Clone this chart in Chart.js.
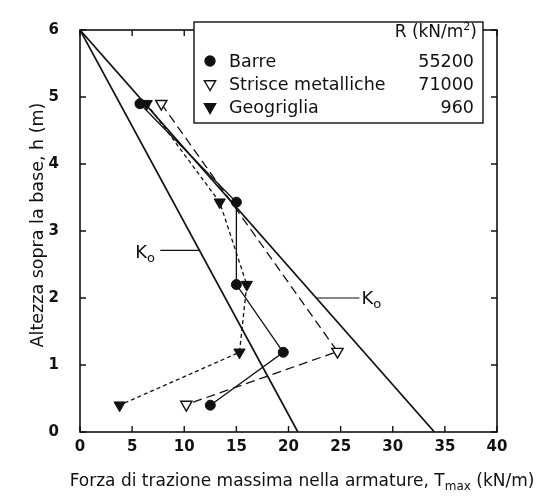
<!DOCTYPE html>
<html>
<head>
<meta charset="utf-8">
<script src="https://cdn.jsdelivr.net/npm/chart.js@4.4.0/dist/chart.umd.min.js"></script>
<style>
  html, body { margin: 0; padding: 0; background: #fff; }
  #wrap { width: 555px; height: 500px; }
</style>
</head>
<body>
<div id="wrap"><canvas id="c" width="555" height="500"></canvas></div>
<script>
// Axis ticks
const xTicks = [0, 5, 10, 15, 20, 25, 30, 35, 40];
const yTicks = [0, 1, 2, 3, 4, 5, 6];

// Measured peak tension (T, kN/m) at each reinforcement level (h, m)
const barreH = [4.9, 3.43, 2.2, 1.19, 0.4];
const barreT = [5.75, 15.0, 15.0, 19.5, 12.5];
const strisceH = [4.9, 1.2, 0.41];
const strisceT = [7.8, 24.7, 10.2];
const geoH = [4.9, 3.43, 2.2, 1.19, 0.4];
const geoT = [6.4, 13.4, 16.0, 15.3, 3.8];

// K0 (at-rest) reference lines
const koH = [6, 0];
const koNarrowT = [0, 20.9];
const koWideT = [0, 34.0];

// Legend table
const legendNames = ['Barre', 'Strisce metalliche', 'Geogriglia'];
const legendR = ['55200', '71000', '960'];
const legendTitle = 'R (kN/m';

const INK = '#111';
const FONT = '"DejaVu Sans", sans-serif';

const pts = (xs, ys) => xs.map((x, i) => ({ x: x, y: ys[i] }));

const baseLine = { showLine: true, tension: 0, borderColor: INK, fill: false };

const datasets = [
  Object.assign({}, baseLine, {
    label: 'K0 a', data: pts(koNarrowT, koH), borderWidth: 1.7, pointRadius: 0
  }),
  Object.assign({}, baseLine, {
    label: 'K0 b', data: pts(koWideT, koH), borderWidth: 1.7, pointRadius: 0
  }),
  Object.assign({}, baseLine, {
    label: legendNames[0], data: pts(barreT, barreH), borderWidth: 1.3,
    pointStyle: 'circle', pointRadius: 5, pointBackgroundColor: INK,
    pointBorderColor: INK, pointBorderWidth: 1
  }),
  Object.assign({}, baseLine, {
    label: legendNames[1], data: pts(strisceT, strisceH), borderWidth: 1.3,
    borderDash: [9, 5],
    pointStyle: 'triangle', pointRotation: 180, pointRadius: 6.5,
    pointBackgroundColor: '#fff', pointBorderColor: INK, pointBorderWidth: 1.4
  }),
  Object.assign({}, baseLine, {
    label: legendNames[2], data: pts(geoT, geoH), borderWidth: 1.3,
    borderDash: [4, 3],
    pointStyle: 'triangle', pointRotation: 180, pointRadius: 6.5,
    pointBackgroundColor: INK, pointBorderColor: INK, pointBorderWidth: 1
  })
];

// Draws text made of runs, where a run may be lowered as a subscript or raised as a superscript
function drawRuns(ctx, runs, x, y, align) {
  let total = 0;
  runs.forEach(r => { ctx.font = r.font; total += ctx.measureText(r.text).width; });
  let cx = align === 'right' ? x - total : align === 'center' ? x - total / 2 : x;
  ctx.textAlign = 'left';
  ctx.textBaseline = 'alphabetic';
  runs.forEach(r => {
    ctx.font = r.font;
    ctx.fillText(r.text, cx, y + (r.dy || 0));
    cx += ctx.measureText(r.text).width;
  });
}

const decor = {
  id: 'decor',
  afterDraw(chart) {
    const ctx = chart.ctx;
    const a = chart.chartArea;
    const xs = chart.scales.x, ys = chart.scales.y;
    ctx.save();
    ctx.strokeStyle = INK;
    ctx.fillStyle = INK;

    // plot frame
    ctx.lineWidth = 1.6;
    ctx.strokeRect(a.left, a.top, a.right - a.left, a.bottom - a.top);

    // inward tick marks on all four sides
    ctx.lineWidth = 1.4;
    const tl = 6;
    ctx.beginPath();
    xTicks.forEach(v => {
      const px = xs.getPixelForValue(v);
      ctx.moveTo(px, a.bottom); ctx.lineTo(px, a.bottom - tl);
      ctx.moveTo(px, a.top); ctx.lineTo(px, a.top + tl);
    });
    yTicks.forEach(v => {
      const py = ys.getPixelForValue(v);
      ctx.moveTo(a.left, py); ctx.lineTo(a.left + tl, py);
      ctx.moveTo(a.right, py); ctx.lineTo(a.right - tl, py);
    });
    ctx.stroke();

    // K0 labels with leader lines
    const kRuns = [
      { text: 'K', font: '18px ' + FONT },
      { text: 'o', font: '13px ' + FONT, dy: 4 }
    ];
    ctx.lineWidth = 1.2;
    ctx.beginPath();
    const ly = ys.getPixelForValue(2.71);
    ctx.moveTo(xs.getPixelForValue(7.7), ly);
    ctx.lineTo(xs.getPixelForValue(koNarrowT[1] * (1 - 2.71 / 6)), ly);
    const ry = ys.getPixelForValue(2.0);
    ctx.moveTo(xs.getPixelForValue(koWideT[1] * (1 - 2.0 / 6)), ry);
    ctx.lineTo(xs.getPixelForValue(26.8), ry);
    ctx.stroke();
    drawRuns(ctx, kRuns, xs.getPixelForValue(5.3), ys.getPixelForValue(2.6), 'left');
    drawRuns(ctx, kRuns, xs.getPixelForValue(27.0), ys.getPixelForValue(1.91), 'left');

    // legend box
    const L = 194, T = 22, R = 483, B = 123;
    ctx.fillStyle = '#fff';
    ctx.fillRect(L, T, R - L, B - T);
    ctx.fillStyle = INK;
    ctx.lineWidth = 1.4;
    ctx.strokeRect(L, T, R - L, B - T);
    drawRuns(ctx, [
      { text: legendTitle, font: '17px ' + FONT },
      { text: '2', font: '11px ' + FONT, dy: -7 },
      { text: ')', font: '17px ' + FONT }
    ], 477, 37, 'right');
    const rowY = [67, 90, 113];
    const markers = [datasets[2], datasets[3], datasets[4]];
    legendNames.forEach((name, i) => {
      const d = markers[i];
      ctx.fillStyle = d.pointBackgroundColor;
      ctx.strokeStyle = INK;
      Chart.helpers.drawPoint(ctx, {
        pointStyle: d.pointStyle, rotation: d.pointRotation || 0,
        radius: d.pointRadius, borderWidth: d.pointBorderWidth
      }, 210, rowY[i] - 6);
      ctx.fillStyle = INK;
      drawRuns(ctx, [{ text: name, font: '17.5px ' + FONT }], 229, rowY[i], 'left');
      drawRuns(ctx, [{ text: legendR[i], font: '17.5px ' + FONT }], 474, rowY[i], 'right');
    });

    // axis titles
    drawRuns(ctx, [
      { text: 'Forza di trazione massima nella armature, T', font: '17px ' + FONT },
      { text: 'max', font: '12px ' + FONT, dy: 4 },
      { text: ' (kN/m)', font: '17px ' + FONT }
    ], 302, 486, 'center');

    ctx.save();
    ctx.translate(43, 225);
    ctx.rotate(-Math.PI / 2);
    drawRuns(ctx, [{ text: 'Altezza sopra la base, h (m)', font: '17.5px ' + FONT }], 0, 0, 'center');
    ctx.restore();

    ctx.restore();
  }
};

new Chart(document.getElementById('c'), {
  type: 'scatter',
  data: { datasets: datasets },
  options: {
    responsive: false,
    animation: false,
    devicePixelRatio: 1,
    layout: { padding: { top: 12, right: 58, left: 0, bottom: 0 } },
    plugins: { legend: { display: false }, tooltip: { enabled: false } },
    scales: {
      x: {
        type: 'linear', min: 0, max: 40,
        afterBuildTicks: s => { s.ticks = xTicks.map(v => ({ value: v })); },
        afterFit: s => { s.height = 68; },
        grid: { display: false, drawTicks: false },
        border: { display: false },
        ticks: { color: INK, padding: 6, font: { family: FONT, size: 15, weight: 'bold' } }
      },
      y: {
        type: 'linear', min: 0, max: 6,
        afterBuildTicks: s => { s.ticks = yTicks.map(v => ({ value: v })); },
        afterFit: s => { s.width = 80; },
        grid: { display: false, drawTicks: false },
        border: { display: false },
        ticks: { color: INK, padding: 21, font: { family: FONT, size: 15, weight: 'bold' } }
      }
    }
  },
  plugins: [decor]
});
</script>
</body>
</html>
